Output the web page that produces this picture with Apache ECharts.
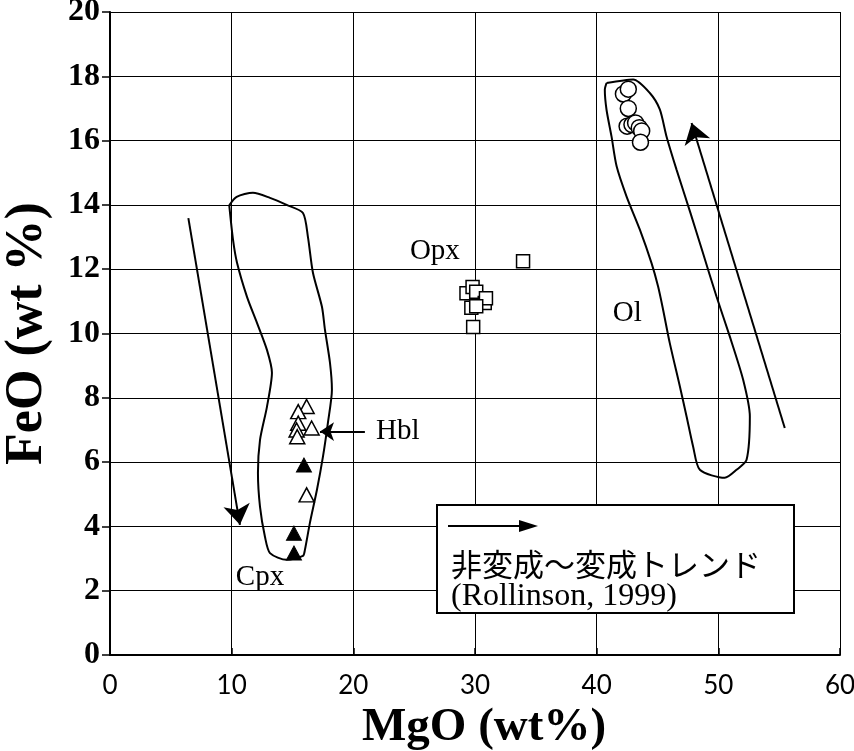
<!DOCTYPE html>
<html><head><meta charset="utf-8">
<script src="https://cdn.jsdelivr.net/npm/echarts@6/dist/echarts.min.js"></script>
<style>html,body{margin:0;padding:0;background:#fff}#c{width:854px;height:751px}</style>
</head><body><div id="c"></div>
<script>
// ---- data (MgO wt%, FeO wt%) ----
const olivine = [[42.2,17.45],[42.6,17.6],[42.6,17.0],[42.5,16.45],[42.9,16.5],[43.2,16.55],[43.5,16.4],[43.7,16.3],[43.6,15.95]];
const orthopyroxene = [[29.3,11.25],[29.8,11.45],[30.1,11.3],[30.8,10.95],[30.9,11.1],[29.7,10.8],[30.1,10.85],[29.85,10.2],[33.95,12.25]];
const hornblende = [[16.16,7.73],[15.47,7.57],[15.47,7.21],[16.57,7.06],[15.34,7.0],[15.39,6.79],[16.16,4.98]];
const clinopyroxene = [[15.94,5.91],[15.12,3.79],[15.12,3.17]];

const cpxField = [[9.80,13.99],[10.41,14.25],[11.75,14.38],[13.15,14.22],[14.52,14.0],[15.86,13.75],[16.27,13.0],[16.68,11.89],[17.42,10.83],[17.67,10.11],[18.08,9.09],[18.24,8.25],[17.91,7.22],[17.50,6.16],[17.01,5.14],[16.43,4.11],[16.02,3.27],[15.86,3.08],[14.52,2.96],[13.15,3.17],[12.74,3.67],[12.33,4.61],[12.16,5.66],[12.33,6.69],[12.90,7.72],[13.31,8.78],[12.90,9.49],[12.08,10.33],[11.26,11.14],[10.44,12.20],[10.11,12.92],[9.80,13.99]];
const olField = [[40.81,17.79],[43.0,17.90],[44.37,17.48],[45.19,16.97],[45.74,16.13],[46.57,15.09],[47.70,13.76],[48.73,12.51],[49.85,11.15],[50.94,9.91],[52.04,8.56],[52.59,7.42],[52.32,6.07],[51.50,5.76],[50.53,5.51],[48.48,5.76],[47.93,6.48],[47.39,7.42],[46.84,8.35],[46.01,9.70],[45.46,10.74],[45.05,11.46],[44.51,12.19],[43.55,13.23],[42.46,14.26],[41.64,15.20],[41.22,16.13],[40.81,16.96],[40.67,17.58],[40.81,17.79]];

const trendArrows = [[[6.44,13.59],[10.68,4.05]],[[55.46,7.06],[47.80,16.55]]];
const hblPointer = [[20.95,6.95],[17.26,6.95]];

const labelNames = ['Opx','Ol','Hbl','Cpx'];
const labelPos = [[26.7,12.54],[42.52,10.64],[23.66,6.94],[12.33,2.40]];

const xTicks = [0,10,20,30,40,50,60];
const yTicks = [0,2,4,6,8,10,12,14,16,18,20];
const legendLines = ['非変成～変成トレンド','(Rollinson, 1999)'];

const chart = echarts.init(document.getElementById('c'));
const serif = '"Liberation Serif","DejaVu Serif",serif';

function fieldSeries(d){
  return {type:'line', data:d, showSymbol:false, symbol:'none', smooth:0.25,
    lineStyle:{color:'#000', width:2}, z:3, silent:true};
}

chart.setOption({
  animation:false,
  backgroundColor:'#fff',
  grid:{left:110, right:14, top:12, bottom:96, containLabel:false, outerBoundsMode:'none'},
  xAxis:{type:'value', min:xTicks[0], max:xTicks[xTicks.length-1], interval:10,
    axisLine:{lineStyle:{color:'#000', width:2}},
    axisTick:{inside:true, length:7, lineStyle:{color:'#000', width:1.5}},
    axisLabel:{color:'#000', fontFamily:'Lato', fontSize:26, margin:18},
    splitLine:{show:true, lineStyle:{color:'#000', width:1}},
    name:'MgO (wt%)', nameLocation:'middle', nameGap:46,
    nameTextStyle:{color:'#000', fontFamily:serif, fontWeight:'bold', fontSize:47, padding:[0,0,0,18]}},
  yAxis:{type:'value', min:yTicks[0], max:yTicks[yTicks.length-1], interval:2,
    axisLine:{lineStyle:{color:'#000', width:2}},
    axisTick:{inside:false, length:8, lineStyle:{color:'#000', width:1.5}},
    axisLabel:{color:'#000', fontFamily:serif, fontWeight:'bold', fontSize:32, margin:10},
    splitLine:{show:true, lineStyle:{color:'#000', width:1}},
    name:'FeO (wt %)', nameLocation:'middle', nameGap:56, nameRotate:90,
    nameTextStyle:{color:'#000', fontFamily:serif, fontWeight:'bold', fontSize:52}},
  series:[
    fieldSeries(cpxField),
    fieldSeries(olField),
    {type:'lines', coordinateSystem:'cartesian2d', z:4, silent:true,
      symbol:['none','arrow'], symbolSize:[12,20],
      lineStyle:{color:'#000', width:2, opacity:1},
      data:trendArrows.map(c=>({coords:c}))},
    {type:'lines', coordinateSystem:'cartesian2d', z:4, silent:true,
      symbol:['none','arrow'], symbolSize:[14,14],
      lineStyle:{color:'#000', width:2, opacity:1},
      data:[{coords:hblPointer}]},
    {type:'scatter', data:olivine, symbol:'circle', symbolSize:16, z:5,
      itemStyle:{color:'#fff', borderColor:'#000', borderWidth:1.5, opacity:1}},
    {type:'scatter', data:orthopyroxene, symbol:'rect', symbolSize:13, z:5,
      itemStyle:{color:'#fff', borderColor:'#000', borderWidth:1.5, opacity:1}},
    {type:'scatter', data:hornblende, symbol:'triangle', symbolSize:[15,14], z:5,
      itemStyle:{color:'#fff', borderColor:'#000', borderWidth:1.5, opacity:1}},
    {type:'scatter', data:clinopyroxene, symbol:'triangle', symbolSize:[15,14], z:5,
      itemStyle:{color:'#000', borderColor:'#000', borderWidth:1, opacity:1}},
    {type:'scatter', symbolSize:0, z:6, silent:true,
      itemStyle:{opacity:1},
      data:labelNames.map((n,i)=>({value:labelPos[i], name:n})),
      label:{show:true, position:'inside', formatter:p=>p.name, color:'#000',
        fontFamily:serif, fontSize:29, opacity:1,
        align:'center', verticalAlign:'middle'}}
  ],
  graphic:[
    {type:'rect', z:100, shape:{x:437, y:505, width:357, height:108},
      style:{fill:'#fff', stroke:'#000', lineWidth:2}},
    {type:'line', z:101, shape:{x1:448, y1:526, x2:524, y2:526}, style:{stroke:'#000', lineWidth:2}},
    {type:'polygon', z:101, shape:{points:[[519,520],[538,526],[519,532]]}, style:{fill:'#000'}},
    {type:'text', z:101, x:451, y:564, style:{text:legendLines[0], fill:'#000',
      font:'31px "Noto Sans CJK JP"', verticalAlign:'middle'}},
    {type:'text', z:101, x:451, y:597, style:{text:legendLines[1], fill:'#000',
      font:'32px "Liberation Serif"', verticalAlign:'middle'}}
  ]
});
</script></body></html>
